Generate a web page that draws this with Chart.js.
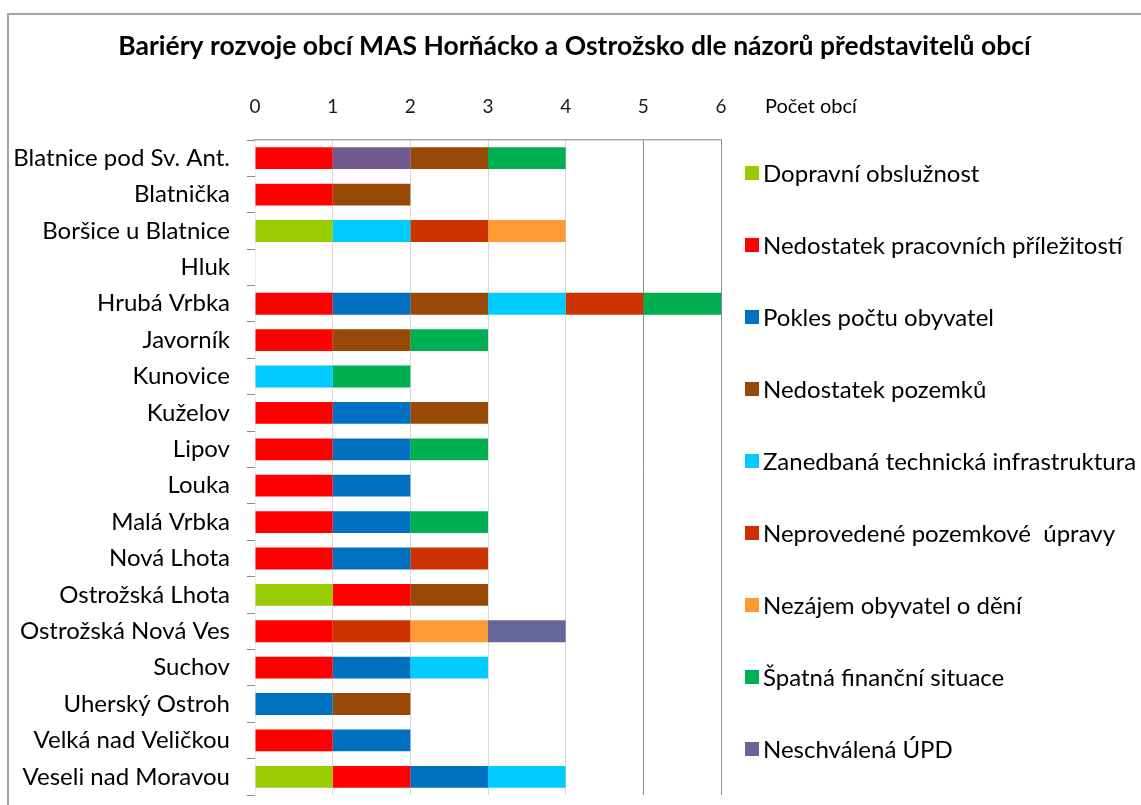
<!DOCTYPE html>
<html>
<head>
<meta charset="utf-8">
<script src="https://cdn.jsdelivr.net/npm/chart.js@4"></script>
<style>
  html, body { margin: 0; padding: 0; background: #fff; }
  #wrap { width: 1141px; height: 805px; }
</style>
</head>
<body>
<div id="wrap"><canvas id="bariery" width="1141" height="805"></canvas></div>
<script>
// obce
const categories = [
  "Blatnice pod Sv. Ant.", "Blatnička", "Boršice u Blatnice", "Hluk", "Hrubá Vrbka",
  "Javorník", "Kunovice", "Kuželov", "Lipov", "Louka", "Malá Vrbka", "Nová Lhota",
  "Ostrožská Lhota", "Ostrožská Nová Ves", "Suchov", "Uherský Ostroh",
  "Velká nad Veličkou", "Veseli nad Moravou"
];
const xTicks = [0, 1, 2, 3, 4, 5, 6];

// bariery (pocet obci)
const dopravni  = [0, 0, 1, 0, 0, 0, 0, 0, 0, 0, 0, 0, 1, 0, 0, 0, 0, 1];
const prace     = [1, 1, 0, 0, 1, 1, 0, 1, 1, 1, 1, 1, 1, 1, 1, 0, 1, 1];
const updBlat   = [1, 0, 0, 0, 0, 0, 0, 0, 0, 0, 0, 0, 0, 0, 0, 0, 0, 0];
const pokles    = [0, 0, 0, 0, 1, 0, 0, 1, 1, 1, 1, 1, 0, 0, 1, 1, 1, 1];
const pozemky   = [1, 1, 0, 0, 1, 1, 0, 1, 0, 0, 0, 0, 1, 0, 0, 1, 0, 0];
const infra     = [0, 0, 1, 0, 1, 0, 1, 0, 0, 0, 0, 0, 0, 0, 1, 0, 0, 1];
const upravy    = [0, 0, 1, 0, 1, 0, 0, 0, 0, 0, 0, 1, 0, 1, 0, 0, 0, 0];
const nezajem   = [0, 0, 1, 0, 0, 0, 0, 0, 0, 0, 0, 0, 0, 1, 0, 0, 0, 0];
const finance   = [1, 0, 0, 0, 1, 1, 1, 0, 1, 0, 1, 0, 0, 0, 0, 0, 0, 0];
const upd       = [0, 0, 0, 0, 0, 0, 0, 0, 0, 0, 0, 0, 0, 1, 0, 0, 0, 0];

const FONT = "Lato, 'Open Sans', sans-serif";

function ds(label, data, color, inLegend) {
  return {
    label: label,
    data: data,
    backgroundColor: color,
    borderWidth: 0,
    inLegend: inLegend !== false,
  };
}

const data = {
  labels: categories,
  datasets: [
    ds("Dopravní obslužnost", dopravni, "#99cc00"),
    ds("Nedostatek pracovních příležitostí", prace, "#ff0000"),
    ds("Neschválená ÚPD", updBlat, "#725a8e", false),
    ds("Pokles počtu obyvatel", pokles, "#0070c0"),
    ds("Nedostatek pozemků", pozemky, "#984807"),
    ds("Zanedbaná technická infrastruktura", infra, "#00ccff"),
    ds("Neprovedené pozemkové  úpravy", upravy, "#cc3300"),
    ds("Nezájem obyvatel o dění", nezajem, "#ff9933"),
    ds("Špatná finanční situace", finance, "#00b050"),
    ds("Neschválená ÚPD", upd, "#666699"),
  ],
};

// ramecek + legenda vpravo + popisek osy
const frameLegend = {
  id: "frameLegend",
  beforeDraw(chart) {
    const ctx = chart.ctx;
    ctx.save();
    ctx.strokeStyle = "#a6a6a6";
    ctx.lineWidth = 2;
    ctx.strokeRect(8, 14, 1200, 900);
    ctx.restore();
  },
  afterDraw(chart) {
    const { ctx, chartArea } = chart;
    ctx.save();
    ctx.textBaseline = "middle";
    ctx.textAlign = "left";
    ctx.fillStyle = "#000";
    ctx.font = "20px " + FONT;
    ctx.fillText("Počet obcí", chartArea.right + 44, 107);

    ctx.font = "24px " + FONT;
    let y = chartArea.top + 33;
    chart.data.datasets.forEach((d) => {
      if (!d.inLegend) return;
      ctx.fillStyle = d.backgroundColor;
      ctx.fillRect(chartArea.right + 24, y - 7, 14, 14);
      ctx.fillStyle = "#000";
      ctx.fillText(d.label, chartArea.right + 42, y + 1);
      y += 72;
    });
    ctx.restore();
  },
};

const config = {
  type: "bar",
  data: data,
  options: {
    indexAxis: "y",
    responsive: false,
    animation: false,
    layout: { padding: { left: 8, right: 0, bottom: 10, top: 0 } },
    plugins: {
      legend: { display: false },
      tooltip: { enabled: false },
      title: {
        display: true,
        text: "Bariéry rozvoje obcí MAS Horňácko a Ostrožsko dle názorů představitelů obcí",
        color: "#000",
        font: { family: FONT, size: 26.5, weight: "bold" },
        padding: { top: 31, bottom: 36 },
      },
    },
    datasets: {
      bar: { categoryPercentage: 0.6, barPercentage: 1 },
    },
    scales: {
      x: {
        position: "top",
        stacked: true,
        min: 0,
        max: 6,
        afterBuildTicks(scale) {
          scale.ticks = xTicks.map((v) => ({ value: v }));
        },
        afterFit(scale) {
          scale.height = 41.2;
        },
        ticks: { color: "#1a1a1a", font: { family: FONT, size: 19 }, padding: 22 },
        grid: {
          drawTicks: false,
          color(c) {
            if (!c.tick || c.tick.value === 0) return "#ececec";
            return c.tick.value >= 5 ? "#8c8c8c" : "#d9d9d9";
          },
        },
        border: { display: true, color: "#a6a6a6", width: 1.5 },
      },
      y: {
        stacked: true,
        afterFit(scale) {
          scale.width = 247;
          scale.paddingTop = 0;
          scale.paddingBottom = 0;
        },
        ticks: { color: "#000", font: { family: FONT, size: 24 }, padding: 17 },
        grid: { drawOnChartArea: false, drawTicks: true, tickLength: 8, color: "#8c8c8c" },
        border: { display: false },
      },
      // prazdne misto pro legendu vpravo
      legendSpace: {
        axis: "y",
        position: "right",
        grid: { display: false },
        ticks: { display: false },
        border: { display: false },
        afterFit(scale) {
          scale.width = 420;
        },
      },
    },
  },
  plugins: [frameLegend],
};

const barieryChart = new Chart(document.getElementById("bariery"), config);
</script>
</body>
</html>
